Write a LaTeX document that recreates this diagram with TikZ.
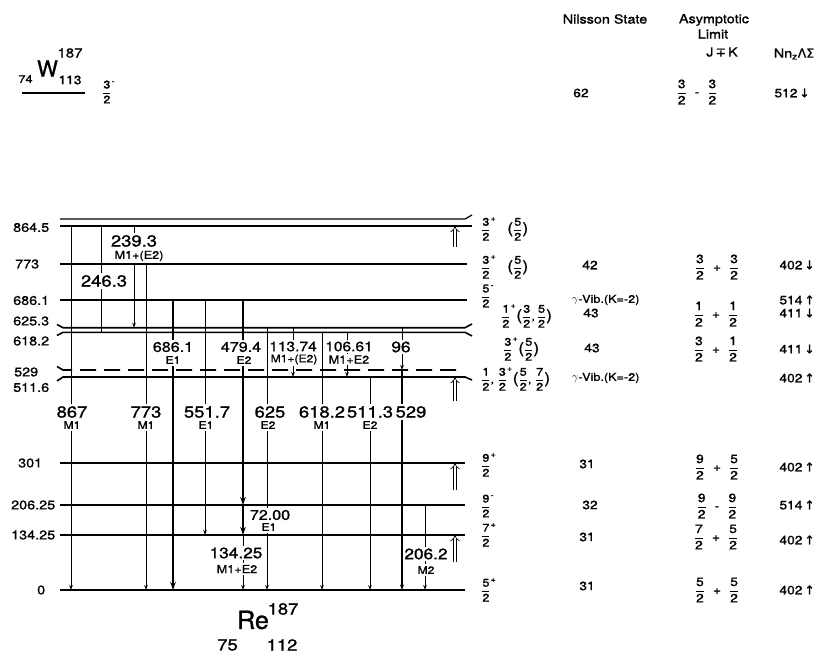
\documentclass[tikz,border=0pt]{standalone}
\usepackage{amsmath}
\usepackage{fontspec}
\setmainfont[FakeStretch=1.15,FakeBold=1.2]{TeX Gyre Heros}
\newfontfamily\plainsf[FakeBold=1.2]{TeX Gyre Heros}
\newfontfamily\dejavu[FakeBold=1.2]{DejaVu Sans}
\usetikzlibrary{arrows.meta}
\newcommand{\fr}[2]{\dfrac{\text{#1}}{\text{#2}}}
\newcommand{\fsz}[1]{\fontsize{#1}{#1}\selectfont}
\newcommand{\pp}{^{\text{+}}}
\newcommand{\mm}{^{\text{-}}}
\newcommand{\lpar}{\text{\fsz{15}(}}
\newcommand{\rpar}{\text{\fsz{15})}}
\newcommand{\gap}{\hspace{8pt}}
\newcommand{\upa}{{\dejavu\,↑}}
\newcommand{\dna}{{\dejavu\,↓}}
\begin{document}
\begin{tikzpicture}[x=1pt,y=-1pt,
  lvl/.style={line width=1.6pt},
  thinlvl/.style={line width=1.2pt},
  tr/.style={line width=0.8pt,-{Stealth[length=5pt,width=3.6pt]}},
  trn/.style={line width=0.8pt},
  trm/.style={line width=1.2pt,-{Stealth[length=5.5pt,width=4pt]}},
  trk/.style={line width=2.4pt,-{Stealth[length=8pt,width=5.5pt]}},
  up/.style={double, double distance=2.6pt, line width=0.7pt, -{Implies}},
  lvlab/.style={font=\fsz{12.5}, anchor=west, inner sep=0pt},
  en/.style={fill=white, inner xsep=0.5pt, inner ysep=2pt},
  mt/.style={font=\fsz{10.5}, fill=white, inner xsep=0.5pt, inner ysep=2pt},
  jp/.style={font=\fsz{11}, anchor=west, inner sep=0pt},
  asym/.style={font=\fsz{12}, inner sep=0pt},
  col/.style={font=\fsz{12}, inner sep=0pt},
  hd/.style={font=\fsz{12.5}, inner sep=0pt},
]
\useasboundingbox (0,0) rectangle (822,653);

% ---------- level coordinates
\coordinate (L8645) at (0,226);
\coordinate (L773) at (0,264);
\coordinate (L6861) at (0,300);
\coordinate (L6253) at (0,327.7);
\coordinate (L6182) at (0,332.3);
\coordinate (L529) at (0,370);
\coordinate (L5116) at (0,377);
\coordinate (L301) at (0,463);
\coordinate (L20625) at (0,505);
\coordinate (L13425) at (0,535);
\coordinate (L0) at (0,590);
\coordinate (Ua) at (0,247);
\coordinate (Ub) at (0,401);
\coordinate (Uc) at (0,490);
\coordinate (Ud) at (0,562);

% ---------- level lines
\draw[thinlvl] (60,219) -- (465,219) -- (472,215);
\draw[thinlvl] (60,226) -- (472,226);
\draw[lvl] (60,264) -- (467,264);
\draw[lvl] (60,300) -- (467,300);
\draw[lvl] (57,324.5) -- (63,327.7) -- (465,327.7) -- (472,324);
\draw[lvl] (57,335.5) -- (63,332.3) -- (465,332.3) -- (472,336);
\draw[lvl,dash pattern=on 16pt off 8pt] (57,366.5) -- (63,370) -- (464,370);
\draw[lvl] (57,381) -- (63,377) -- (465,377) -- (472,380);
\draw[lvl] (60,463) -- (465,463);
\draw[lvl] (60,505) -- (465,505);
\draw[lvl] (60,535) -- (465,535);
\draw[lvl] (60,590) -- (465,590);

% ---------- level energy labels
\node[lvlab] (n8645) at (13,227.5) {864.5};
\node[lvlab] (n773) at (15,264) {773};
\node[lvlab] (n6861) at (13,300.5) {686.1};
\node[lvlab] (n6253) at (13,321) {625.3};
\node[lvlab] (n6182) at (13,341) {618.2};
\node[lvlab] (n529) at (14,372) {529};
\node[lvlab] (n5116) at (13,387.5) {511.6};
\node[lvlab] (n301) at (18,463) {301};
\node[lvlab] (n20625) at (11,505) {206.25};
\node[lvlab] (n13425) at (11,535) {134.25};
\node[lvlab] (n0) at (37,590) {0};

% ---------- transition x positions
\coordinate (Xa) at (71,0);
\coordinate (Xb) at (101,0);
\coordinate (Xc) at (134,0);
\coordinate (Xd) at (146,0);
\coordinate (Xe) at (173,0);
\coordinate (Xf) at (205,0);
\coordinate (Xg) at (243,0);
\coordinate (Xh) at (267,0);
\coordinate (Xi) at (293,0);
\coordinate (Xj) at (322,0);
\coordinate (Xk) at (347,0);
\coordinate (Xl) at (370,0);
\coordinate (Xm) at (402,0);
\coordinate (Xn) at (425,0);
\coordinate (Xo) at (455,0);

% ---------- transitions
\draw[tr] (Xa |- L8645) -- (Xa |- L0);
\draw[trn] (Xb |- L8645) -- (Xb |- L6182);
\draw[tr] (Xc |- L8645) -- (Xc |- L6253);
\draw[tr] (Xd |- L773) -- (Xd |- L0);
\draw[trk] (Xe |- L6861) -- (Xe |- L0);
\draw[tr] (Xf |- L6861) -- (Xf |- L13425);
\draw[trk] (Xg |- L6861) -- (Xg |- L20625);
\draw[trk] (Xg |- L20625) -- (Xg |- L13425);
\draw[tr] (Xg |- L13425) -- (Xg |- L0);
\draw[tr] (Xh |- L6253) -- (Xh |- L0);
\draw[tr] (Xi |- L6253) -- (Xi |- L5116);
\draw[tr] (Xj |- L6182) -- (Xj |- L0);
\draw[tr] (Xk |- L6182) -- (Xk |- L5116);
\draw[tr] (Xl |- L5116) -- (Xl |- L0);
\draw[tr] (Xm |- L6253) -- (Xm |- L529);
\draw[trm] (Xm |- L529) -- (Xm |- L0);
\draw[tr] (Xn |- L20625) -- (Xn |- L0);

% ---------- feeding arrows
\draw[up] (Xo |- Ua) -- (Xo |- L8645);
\draw[up] (Xo |- Ub) -- (Xo |- L5116);
\draw[up] (Xo |- Uc) -- (Xo |- L301);
\draw[up] (Xo |- Ud) -- (Xo |- L13425);

% ---------- transition labels
\node[en,font=\fsz{16}] (e867) at (72,412) {867};
\node[mt] (m867) at (72,425) {M1};
\node[en,font=\fsz{16}] (e2463) at (104,281) {246.3};
\node[en,font=\fsz{16}] (e2393) at (134,241) {239.3};
\node[mt,font=\fsz{11}] (m2393) at (139,256) {M1+(E2)};
\node[en,font=\fsz{16}] (e773) at (146,412) {773};
\node[mt] (m773) at (146,425) {M1};
\node[en,font=\fsz{14}] (e6861) at (173,347) {686.1};
\node[mt] (m6861) at (173,360) {E1};
\node[en,font=\fsz{16}] (e5517) at (207,412) {551.7};
\node[mt] (m5517) at (206,425) {E1};
\node[en,font=\fsz{14}] (e4794) at (241,347) {479.4};
\node[mt] (m4794) at (244,360) {E2};
\node[en,font=\fsz{14}] (e7200) at (270,515) {72.00};
\node[mt] (m7200) at (269,527) {E1};
\node[en,font=\fsz{15}] (e13425) at (236,553) {134.25};
\node[mt,font=\fsz{11}] (m13425) at (237,569) {M1+E2};
\node[en,font=\fsz{16}] (e625) at (270,412) {625};
\node[mt] (m625) at (268,425) {E2};
\node[en,font=\fsz{13.5}] (e11374) at (293,346.5) {113.74};
\node[mt,inner ysep=1.5pt] (m11374) at (294,359.5) {M1+(E2)};
\node[en,font=\fsz{16}] (e6182) at (322,412) {618.2};
\node[mt] (m6182) at (322,425) {M1};
\node[en,font=\fsz{13.5}] (e10661) at (349,346.5) {106.61};
\node[mt,font=\fsz{11},inner ysep=1.5pt] (m10661) at (349,359.5) {M1+E2};
\node[en,font=\fsz{16}] (e5113) at (370,412) {511.3};
\node[mt] (m5113) at (370,425) {E2};
\node[en,font=\fsz{15}] (e96) at (401,347) {96};
\node[en,font=\fsz{16}] (e529) at (411,412) {529};
\node[en,font=\fsz{15}] (e2062) at (426,554) {206.2};
\node[mt] (m2062) at (426,570) {M2};

% ---------- spin / parity labels
\node[jp] (j8645) at (481,229) {$\fr{3}{2}\pp\quad\lpar\fr{5}{2}\rpar$};
\node[jp] (j773) at (481,267) {$\fr{3}{2}\pp\quad\lpar\fr{5}{2}\rpar$};
\node[jp] (j6861) at (481,296) {$\fr{5}{2}\mm$};
\node[jp] (j6253) at (501,316) {$\fr{1}{2}\pp\lpar\fr{3}{2}\text{,}\,\fr{5}{2}\rpar$};
\node[jp] (j6182) at (503,349) {$\fr{3}{2}\pp\lpar\fr{5}{2}\rpar$};
\node[jp] (j529) at (481,379) {$\fr{1}{2}\text{, }\fr{3}{2}\pp\lpar\fr{5}{2}\text{, }\fr{7}{2}\rpar$};
\node[jp] (j301) at (481,465) {$\fr{9}{2}\pp$};
\node[jp] (j20625) at (481,506) {$\fr{9}{2}\mm$};
\node[jp] (j13425) at (481,535) {$\fr{7}{2}\pp$};
\node[jp] (j0) at (481,590) {$\fr{5}{2}\pp$};
\node[jp] (jW) at (102,92) {$\fr{3}{2}\mm$};

\node[jp] (g1) at (572,300) {$\gamma$-Vib.(K=-2)};
\node[jp] (g2) at (572,378) {$\gamma$-Vib.(K=-2)};

% ---------- headers
\node[hd] (h1) at (605,19) {Nilsson State};
\node[hd] (h2) at (714,20) {Asymptotic};
\node[hd] (h3) at (713,34) {Limit};
\node[hd] (h4) at (722,52) {J\,{\dejavu ∓}\,K};
\node[hd] (h5) at (794,54) {Nn$_{\text{z}}${\dejavu ΛΣ}};

% ---------- Nilsson state column
\node[col] (s62) at (581,93) {62};
\node[col] (s42) at (590,265) {42};
\node[col] (s43a) at (591,313) {43};
\node[col] (s43b) at (592,348) {43};
\node[col] (s31a) at (587,464) {31};
\node[col] (s32) at (590,505) {32};
\node[col] (s31b) at (587,537) {31};
\node[col] (s31c) at (587,586) {31};

% ---------- asymptotic limit column
\node[asym] (a1) at (697,92) {$\fr{3}{2}\gap\text{-}\gap\fr{3}{2}$};
\node[asym] (a2) at (717,267) {$\fr{3}{2}\gap\text{+}\gap\fr{3}{2}$};
\node[asym] (a3) at (716,314) {$\fr{1}{2}\gap\text{+}\gap\fr{1}{2}$};
\node[asym] (a4) at (716,349) {$\fr{3}{2}\gap\text{+}\gap\fr{1}{2}$};
\node[asym] (a5) at (717,467) {$\fr{9}{2}\gap\text{+}\gap\fr{5}{2}$};
\node[asym] (a6) at (717,506) {$\fr{9}{2}\gap\text{-}\gap\fr{9}{2}$};
\node[asym] (a7) at (716,537) {$\fr{7}{2}\gap\text{+}\gap\fr{5}{2}$};
\node[asym] (a8) at (717,590) {$\fr{5}{2}\gap\text{+}\gap\fr{5}{2}$};

% ---------- quantum numbers column
\node[col] (q1) at (792,93) {512\dna};
\node[col] (q2) at (797,265) {402\dna};
\node[col] (q3) at (797,300) {514\upa};
\node[col] (q4) at (797,313) {411\dna};
\node[col] (q5) at (797,349) {411\dna};
\node[col] (q6) at (797,378) {402\upa};
\node[col] (q7) at (797,467) {402\upa};
\node[col] (q8) at (797,505) {514\upa};
\node[col] (q9) at (797,540) {402\upa};
\node[col] (q10) at (797,590) {402\upa};

% ---------- nuclide labels
\node[inner sep=0pt,font=\plainsf\fsz{22}] (W) at (47.5,68.5) {W};
\node[inner sep=0pt,font=\fsz{13}] (WA) at (70,53) {187};
\node[inner sep=0pt,font=\fsz{11}] (WZ) at (25.5,79) {74};
\node[inner sep=0pt,font=\fsz{12}] (WN) at (70,80) {113};
\draw[line width=1.2pt] (22,93) -- (85,93);

\node[inner sep=0pt,font=\plainsf\fsz{25}] (Re) at (253,620) {Re};
\node[inner sep=0pt,font=\fsz{16}] (ReA) at (283,609) {187};
\node[inner sep=0pt,font=\fsz{16}] (ReZ) at (227.5,645) {75};
\node[inner sep=0pt,font=\fsz{16}] (ReN) at (282,645) {112};
\end{tikzpicture}
\end{document}
